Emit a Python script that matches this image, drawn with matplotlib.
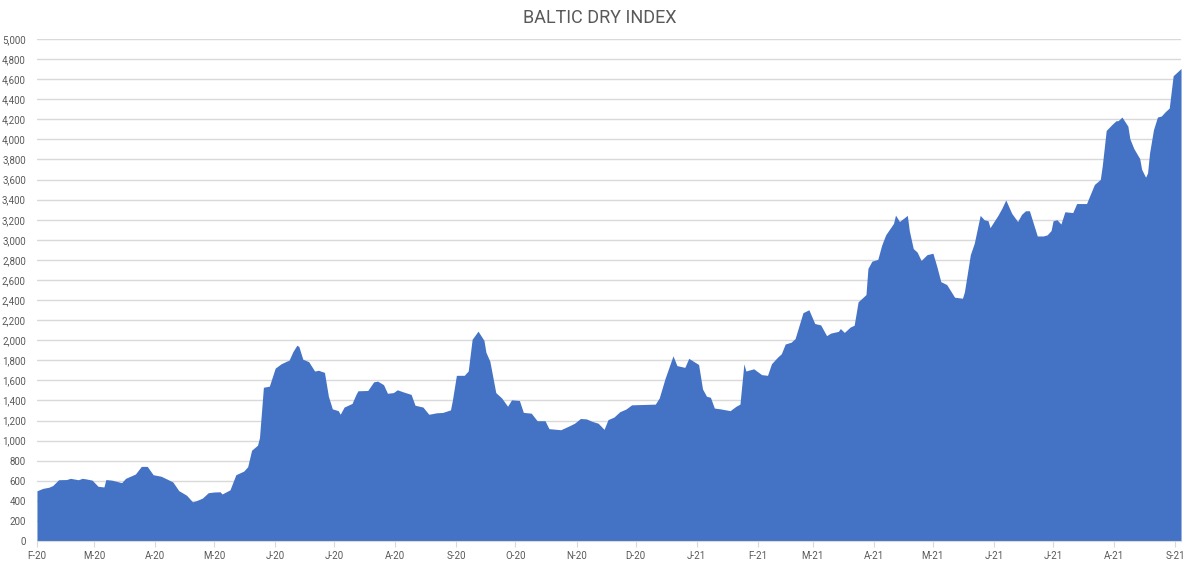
import datetime as dt
import matplotlib
matplotlib.use("Agg")
import matplotlib.pyplot as plt
import matplotlib.dates as mdates
from matplotlib.ticker import FuncFormatter, MultipleLocator

# Baltic Dry Index
dates_2020 = ["02-01", "02-04", "02-07", "02-09", "02-12", "02-16", "02-18", "02-22", "02-24", "02-26",
              "02-29", "03-03", "03-06", "03-07", "03-10", "03-15", "03-17", "03-22", "03-25", "03-28",
              "03-31", "04-04", "04-07", "04-10", "04-13", "04-17", "04-20", "04-22", "04-25", "04-28",
              "05-01", "05-04", "05-05", "05-09", "05-12", "05-16", "05-18", "05-20", "05-23", "05-24",
              "05-26", "05-29", "06-01", "06-04", "06-07", "06-08", "06-10", "06-12", "06-13", "06-15",
              "06-18", "06-21", "06-23", "06-26", "06-28", "06-30", "07-03", "07-04", "07-06", "07-10",
              "07-12", "07-13", "07-18", "07-21", "07-23", "07-26", "07-28", "07-31", "08-02", "08-05",
              "08-09", "08-11", "08-15", "08-18", "08-22", "08-25", "08-29", "08-30", "09-01", "09-05",
              "09-07", "09-09", "09-12", "09-15", "09-16", "09-18", "09-21", "09-24", "09-27", "09-29",
              "10-03", "10-05", "10-09", "10-12", "10-16", "10-18", "10-24", "10-28", "10-31", "11-03",
              "11-06", "11-09", "11-12", "11-15", "11-17", "11-20", "11-23", "11-26", "11-29", "12-11",
              "12-13", "12-16", "12-20", "12-22", "12-26", "12-28"]
bdi_2020 = [500, 524, 535, 552, 610, 612, 624, 610, 624, 618,
            606, 545, 538, 612, 606, 581, 624, 667, 743, 743,
            660, 645, 617, 588, 502, 455, 390, 402, 427, 481,
            488, 490, 468, 509, 660, 696, 739, 904, 954, 1029,
            1531, 1542, 1722, 1765, 1793, 1800, 1887, 1950, 1937, 1811,
            1786, 1693, 1700, 1679, 1442, 1316, 1298, 1262, 1334, 1370,
            1460, 1496, 1499, 1585, 1592, 1557, 1471, 1478, 1506, 1485,
            1460, 1352, 1334, 1262, 1277, 1280, 1306, 1406, 1650, 1650,
            1693, 2009, 2090, 1998, 1880, 1790, 1478, 1424, 1342, 1406,
            1399, 1281, 1273, 1198, 1198, 1119, 1108, 1144, 1173, 1220,
            1216, 1191, 1173, 1112, 1209, 1234, 1288, 1313, 1356, 1363,
            1424, 1621, 1844, 1747, 1729, 1819]

dates_2021 = ["01-02", "01-04", "01-06", "01-08", "01-10", "01-13", "01-18", "01-21", "01-23", "01-25",
              "01-26", "01-30", "02-03", "02-06", "02-08", "02-11", "02-13", "02-15", "02-18", "02-20",
              "02-24", "02-27", "03-02", "03-05", "03-08", "03-10", "03-14", "03-15", "03-17", "03-20",
              "03-22", "03-24", "03-28", "03-29", "03-31", "04-03", "04-05", "04-07", "04-11", "04-12",
              "04-14", "04-18", "04-19", "04-21", "04-23", "04-25", "04-28", "05-01", "05-03", "05-05",
              "05-08", "05-12", "05-16", "05-17", "05-20", "05-22", "05-25", "05-27", "05-29", "05-30",
              "06-03", "06-05", "06-07", "06-10", "06-13", "06-15", "06-17", "06-19", "06-23", "06-26",
              "06-28", "06-30", "07-01", "07-03", "07-05", "07-07", "07-11", "07-13", "07-18", "07-22",
              "07-25", "07-26", "07-28", "07-31", "08-02", "08-03", "08-05", "08-08", "08-09", "08-11",
              "08-14", "08-15", "08-17", "08-18", "08-19", "08-21", "08-23", "08-25", "08-27", "08-29",
              "08-31", "09-01", "09-04"]
bdi_2021 = [1758, 1514, 1442, 1431, 1324, 1316, 1298, 1342, 1363, 1765,
            1693, 1715, 1657, 1650, 1765, 1829, 1865, 1962, 1980, 2016,
            2274, 2303, 2166, 2152, 2045, 2070, 2088, 2116, 2077, 2131,
            2149, 2382, 2454, 2715, 2787, 2805, 2948, 3049, 3164, 3246,
            3182, 3243, 3092, 2913, 2877, 2794, 2852, 2866, 2733, 2583,
            2554, 2428, 2418, 2482, 2852, 2966, 3243, 3200, 3189, 3121,
            3243, 3314, 3397, 3264, 3182, 3253, 3289, 3289, 3038, 3038,
            3049, 3092, 3189, 3200, 3157, 3279, 3271, 3361, 3361, 3551,
            3601, 3738, 4089, 4150, 4186, 4186, 4222, 4132, 4007, 3910,
            3809, 3702, 3623, 3666, 3863, 4096, 4222, 4233, 4276, 4312,
            4634, 4652, 4706]

dates = ([dt.datetime.strptime("2020-" + d, "%Y-%m-%d") for d in dates_2020] +
         [dt.datetime.strptime("2021-" + d, "%Y-%m-%d") for d in dates_2021])
bdi = bdi_2020 + bdi_2021

month_letters = "JFMAMJJASOND"

plt.rcParams['font.family'] = ['Roboto', 'DejaVu Sans']

fig = plt.figure(figsize=(12, 5.65), dpi=100)
ax = fig.add_axes([0.0308, 0.0425, 0.9534, 0.8885])

ax.fill_between(dates, bdi, 0, color='#4472C4', linewidth=0, zorder=2)

ax.set_ylim(0, 5000)
ax.set_xlim(dates[0], dates[-1])
ax.yaxis.set_major_locator(MultipleLocator(200))
ax.yaxis.set_major_formatter(FuncFormatter(lambda v, p: f"{int(v):,}"))
ax.grid(axis='y', color='#d9d9d9', linewidth=1, zorder=0)
ax.set_axisbelow(True)

ax.xaxis.set_major_locator(mdates.MonthLocator())


def month_fmt(x, pos):
    d = mdates.num2date(x)
    return f"{month_letters[d.month - 1]}-{d.strftime('%y')}"


ax.xaxis.set_major_formatter(FuncFormatter(month_fmt))

for s in ['top', 'right', 'left']:
    ax.spines[s].set_visible(False)
ax.spines['bottom'].set_color('#d9d9d9')
ax.tick_params(axis='y', length=0, pad=8, labelsize=7, labelcolor='#595959')
ax.tick_params(axis='x', length=4, color='#d9d9d9', pad=3, labelsize=7, labelcolor='#595959')

fig.text(0.5, 0.968, "BALTIC DRY INDEX", ha='center', va='center', fontsize=13, color='#595959')

fig.savefig("out.png", dpi=100)
